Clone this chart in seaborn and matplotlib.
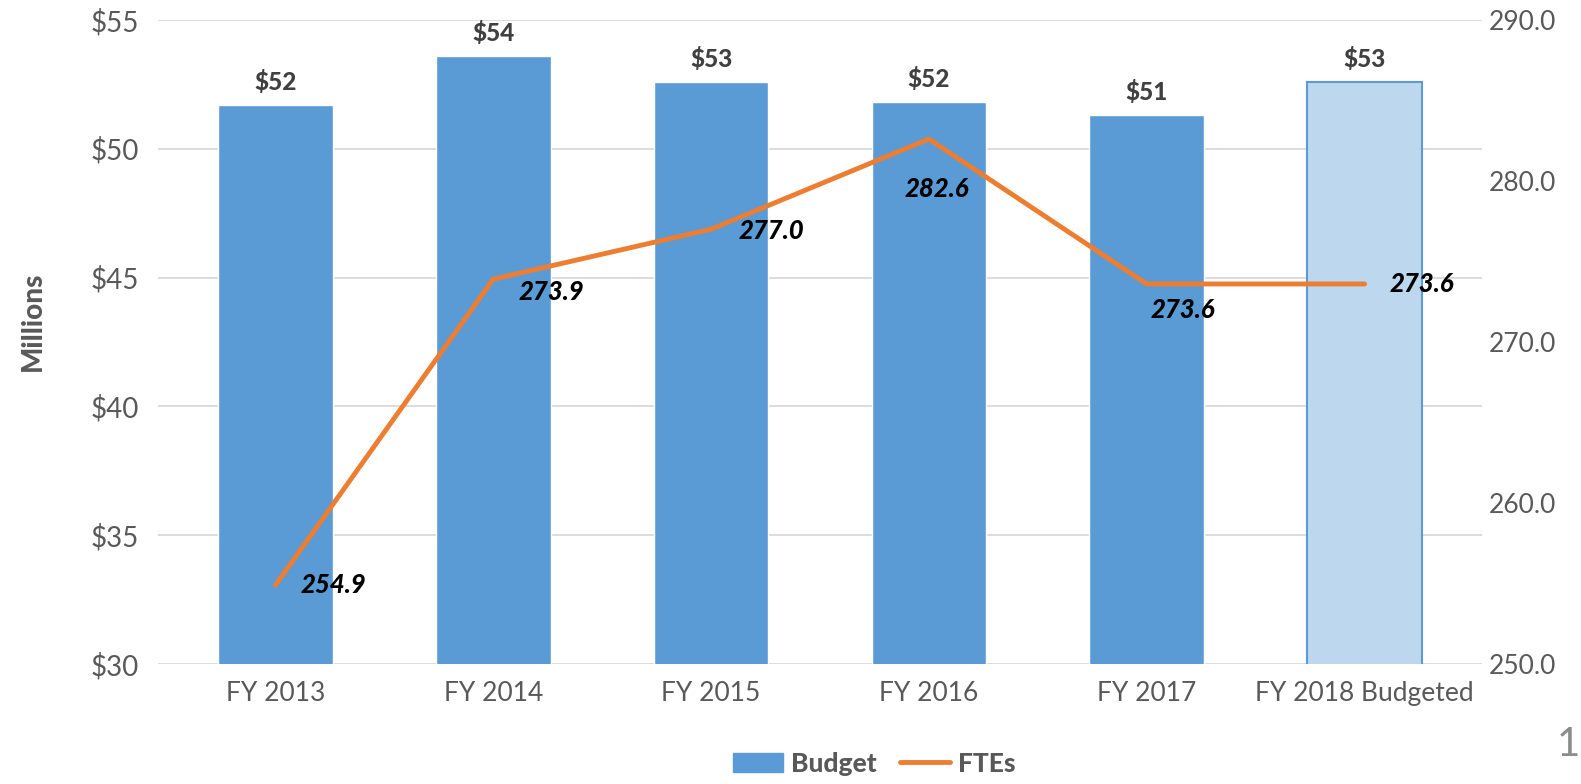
import numpy as np
import pandas as pd
import seaborn as sns
import matplotlib.pyplot as plt
from matplotlib.patches import Patch
from matplotlib.lines import Line2D

# chart data
categories = ["FY 2013", "FY 2014", "FY 2015", "FY 2016", "FY 2017", "FY 2018 Budgeted"]
budget = [51.7, 53.6, 52.6, 51.8, 51.3, 52.6]
budget_labels = ["$52", "$54", "$53", "$52", "$51", "$53"]
ftes = [254.9, 273.9, 277.0, 282.6, 273.6, 273.6]
fte_labels = ["254.9", "273.9", "277.0", "282.6", "273.6", "273.6"]
left_ticks = [30, 35, 40, 45, 50, 55]
right_ticks = [250, 260, 270, 280, 290]

BLUE = "#5B9BD5"
LIGHT_BLUE = "#BDD7EE"
ORANGE = "#ED7D31"
GRID = "#D9D9D9"
TEXT = "#595959"

sns.set_style("white")
plt.rcParams["font.family"] = ["Lato", "DejaVu Sans"]

df = pd.DataFrame({"category": categories, "budget": budget})

fig = plt.figure(figsize=(15.81, 7.84), dpi=100)
ax = fig.add_axes([0.0999, 0.153, 0.8375, 0.8217])

sns.barplot(
    data=df, x="category", y="budget", hue="category",
    palette=[BLUE] * 5 + [LIGHT_BLUE], width=0.526, legend=False,
    saturation=1, ax=ax, zorder=2,
)
# budgeted bar gets an outline
last_bar = ax.patches[-1]
last_bar.set_edgecolor(BLUE)
last_bar.set_linewidth(1.5)

ax.set_ylim(30, 55)
ax.set_yticks(left_ticks)
ax.set_yticklabels([f"${t}" for t in left_ticks])
ax.yaxis.grid(True, color=GRID, linewidth=1.3, zorder=0)
ax.set_axisbelow(True)
ax.set_xlabel("")
ax.set_ylabel("")
ax.tick_params(axis="both", length=0, labelsize=19, colors=TEXT)
ax.tick_params(axis="y", labelsize=20, pad=14)
ax.tick_params(axis="x", pad=12)
for s in ax.spines.values():
    s.set_visible(False)

for i, lab in enumerate(budget_labels):
    ax.annotate(lab, (i, budget[i]), xytext=(0, 8), textcoords="offset points",
                ha="center", va="bottom", fontsize=17.5, fontweight="black", color="#404040")

# FTE line on secondary axis
ax2 = ax.twinx()
x_pos = np.arange(len(categories))
sns.lineplot(x=x_pos, y=ftes, color=ORANGE, linewidth=3.5, ax=ax2, zorder=3,
             solid_capstyle="round", solid_joinstyle="round")
ax2.set_ylim(250, 290)
ax2.set_yticks(right_ticks)
ax2.set_yticklabels([f"{t:.1f}" for t in right_ticks])
ax2.tick_params(axis="y", length=0, labelsize=19, colors=TEXT, pad=5)
ax2.set_ylabel("")
for s in ax2.spines.values():
    s.set_visible(False)

offsets = [(18, 0, "left"), (18, -9, "left"), (20, -1, "left"),
           (6, -36, "center"), (3, -19, "left"), (18, 0, "left")]
for i, lab in enumerate(fte_labels):
    dx, dy, ha = offsets[i]
    ax2.annotate(lab, (i, ftes[i]), xytext=(dx, dy), textcoords="offset points",
                 ha=ha, va="center", fontsize=18.5, fontweight="black",
                 fontstyle="italic", color="black")

fig.text(0.021, 0.59, "Millions", rotation=90, ha="center", va="center",
         fontsize=20, fontweight="black", color=TEXT)
fig.text(0.9995, 0.05, "1", ha="right", va="center", fontsize=29, color="#8C8C8C")

handles = [Patch(facecolor=BLUE, edgecolor=BLUE),
           Line2D([0], [0], color=ORANGE, linewidth=3.5)]
leg = fig.legend(handles, ["Budget", "FTEs"], loc="center", bbox_to_anchor=(0.553, 0.026),
                 ncol=2, frameon=False, handlelength=1.9, handleheight=0.75,
                 columnspacing=0.9, handletextpad=0.3,
                 prop={"weight": "black", "size": 19})
for t in leg.get_texts():
    t.set_color(TEXT)

fig.savefig("out.png", dpi=100)
